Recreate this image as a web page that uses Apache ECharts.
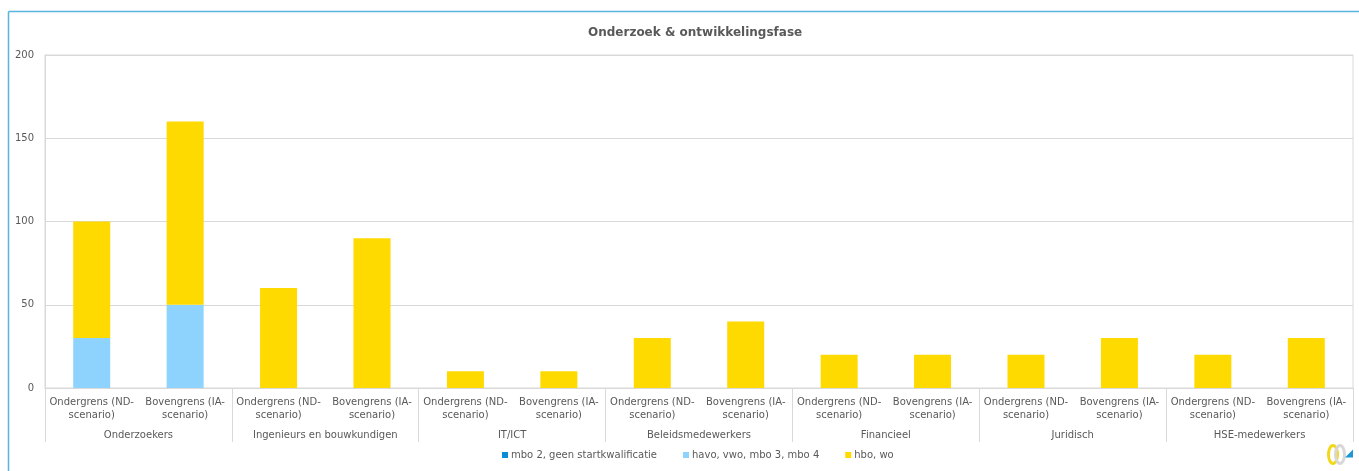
<!DOCTYPE html>
<html>
<head>
<meta charset="utf-8">
<script src="https://cdn.jsdelivr.net/npm/echarts@6/dist/echarts.min.js"></script>
<style>html,body{margin:0;padding:0;background:#fff;}#c{width:1359px;height:471px;}</style>
</head>
<body>
<div id="c"></div>
<script>
var groups = ['Onderzoekers','Ingenieurs en bouwkundigen','IT/ICT','Beleidsmedewerkers','Financieel','Juridisch','HSE-medewerkers'];
var barLabels = ['Ondergrens (ND-\nscenario)','Bovengrens (IA-\nscenario)'];
var seriesNames = ['mbo 2, geen startkwalificatie','havo, vwo, mbo 3, mbo 4','hbo, wo'];
var mbo2 = [0,0, 0,0, 0,0, 0,0, 0,0, 0,0, 0,0];
var havo = [30,50, 0,0, 0,0, 0,0, 0,0, 0,0, 0,0];
var hbo  = [70,110, 60,90, 10,10, 30,40, 20,20, 20,30, 20,30];
var yTicks = {min:0, max:200, interval:50};

var cats = [];
groups.forEach(function(g){ barLabels.forEach(function(b){ cats.push(b); }); });

var txt = '#595959', grid = '#d9d9d9', font = 'DejaVu Sans';
var chart = echarts.init(document.getElementById('c'));
function ser(name, data, color){
  return {name:name, type:'bar', stack:'s', data:data, barWidth:37, xAxisIndex:0,
    itemStyle:{color:color}, emphasis:{disabled:true}};
}
chart.setOption({
  animation:false,
  textStyle:{fontFamily:font},
  title:{text:'Onderzoek & ontwikkelingsfase', left:583, top:22,
    textStyle:{fontSize:12, fontWeight:'bold', color:txt, fontFamily:font}},
  grid:{left:45, right:6, top:55, bottom:83, show:true, borderColor:grid, borderWidth:1},
  legend:{bottom:6, left:497, itemWidth:6, itemHeight:6, itemGap:26, icon:'rect',
    textStyle:{fontSize:10, color:txt, fontFamily:font, padding:[0,0,0,-2]}, data:seriesNames},
  xAxis:[
    {type:'category', data:cats, position:'bottom',
     axisLine:{lineStyle:{color:grid}}, axisTick:{show:false},
     axisLabel:{interval:0, color:txt, fontSize:10, lineHeight:13, margin:8, fontFamily:font}},
    {type:'category', data:groups, position:'bottom',
     axisLine:{show:false}, axisTick:{show:true, length:54, interval:0, lineStyle:{color:grid}},
     axisLabel:{interval:0, color:txt, fontSize:10, margin:42, fontFamily:font}}
  ],
  yAxis:{type:'value', min:yTicks.min, max:yTicks.max, interval:yTicks.interval,
    axisLine:{show:true, lineStyle:{color:grid}}, axisTick:{show:false},
    splitLine:{lineStyle:{color:grid}},
    axisLabel:{color:txt, fontSize:10, margin:11, fontFamily:font}},
  series:[ser(seriesNames[0], mbo2, '#0b8dd6'), ser(seriesNames[1], havo, '#8ed3fe'), ser(seriesNames[2], hbo, '#ffda00')],
  graphic:[
    {type:'line', shape:{x1:8.5, y1:11.5, x2:1359, y2:11.5}, style:{stroke:'#5ab4e0', lineWidth:1.5}},
    {type:'line', shape:{x1:8.5, y1:11.5, x2:8.5, y2:471}, style:{stroke:'#5ab4e0', lineWidth:1.5}},
    {type:'group', left:1326, top:443, children:[
      {type:'ellipse', shape:{cx:7, cy:11, rx:4.5, ry:9}, style:{fill:'none', stroke:'#f2d81c', lineWidth:3}},
      {type:'ellipse', shape:{cx:14, cy:11, rx:4.5, ry:9}, style:{fill:'none', stroke:'#d8d8d8', lineWidth:3}},
      {type:'polygon', shape:{points:[[19,14],[27,6],[27,14]]}, style:{fill:'#1e96d8'}}
    ]}
  ]
});
</script>
</body>
</html>
